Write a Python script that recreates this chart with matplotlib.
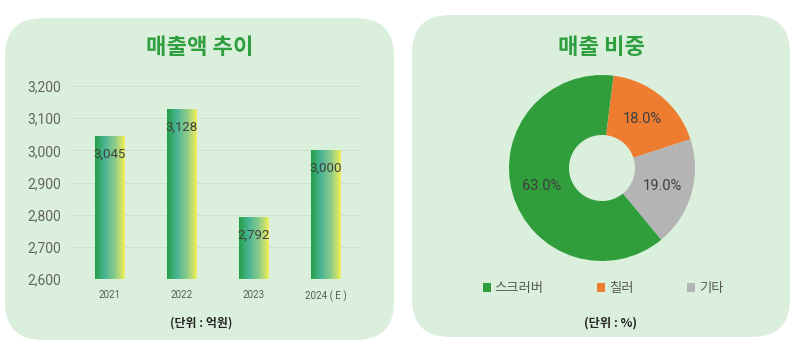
import numpy as np
import matplotlib
matplotlib.use("Agg")
import matplotlib.pyplot as plt
from matplotlib.patches import FancyBboxPatch, Patch
from matplotlib.colors import LinearSegmentedColormap

plt.rcParams['font.family'] = ['Noto Sans CJK KR', 'DejaVu Sans']
NUM_FONT = ['Roboto', 'Noto Sans CJK KR']

# 매출액 추이
years = ["2021", "2022", "2023", "2024 ( E )"]
sales = [3045, 3128, 2792, 3000]
yticks = [2600, 2700, 2800, 2900, 3000, 3100, 3200]

# 매출 비중
share_labels = ["스크러버", "칠러", "기타"]
share_values = [63.0, 18.0, 19.0]
share_colors = ["#2f9e3b", "#ee7d31", "#b4b4b4"]

W, H = 800, 354
panel_bg = "#dbf0dc"
title_green = "#2e9e3e"

fig = plt.figure(figsize=(W / 100, H / 100), dpi=100)
fig.patch.set_facecolor("white")


def px_box(x0, y0, x1, y1):
    # 픽셀 좌표(좌상단 기준) -> figure 비율 [l, b, w, h]
    return [x0 / W, 1 - y1 / H, (x1 - x0) / W, (y1 - y0) / H]


def panel(x0, y0, x1, y1, r=38):
    p = FancyBboxPatch((x0 + r, H - y1 + r), (x1 - x0) - 2 * r, (y1 - y0) - 2 * r,
                       boxstyle=f"round,pad={r}", transform=None,
                       facecolor=panel_bg, edgecolor="none", zorder=-10)
    fig.add_artist(p)


panel(5, 18, 394, 340)
panel(412, 15, 790, 337)

# ---- 왼쪽: 막대 ----
ax = fig.add_axes(px_box(74, 86, 362, 279))
ax.set_facecolor("none")
ax.set_yticks(yticks)
ax.set_yticklabels([f"{v:,}" for v in yticks], fontsize=10, color="#646464",
                   family=NUM_FONT)
ax.set_xticks(range(len(years)))
ax.set_xticklabels(years, fontsize=7, color="#595959", family=NUM_FONT)
ax.tick_params(length=0)
ax.tick_params(axis="y", pad=9.5)
ax.tick_params(axis="x", pad=8)
for s in ax.spines.values():
    s.set_visible(False)
ax.grid(axis="y", color="#c9e2c9", linewidth=0.7)
ax.set_axisbelow(True)

cmap = LinearSegmentedColormap.from_list(
    "bar", ["#22a045", "#4bb597", "#8ccc8a", "#f4ef5a"], N=256)
grad = np.linspace(0, 1, 256).reshape(1, -1)
bars = ax.bar(range(len(years)), [v - 2600 for v in sales], bottom=2600,
              width=0.41, color="none", edgecolor="none", zorder=2)
for b, v in zip(bars, sales):
    x0, y0 = b.get_x(), b.get_y()
    im = ax.imshow(grad, cmap=cmap, aspect="auto", zorder=2,
                   extent=[x0, x0 + b.get_width(), y0, y0 + b.get_height()])
    im.set_clip_path(b)
    ax.annotate(f"{v:,}", (b.get_x() + b.get_width() / 2, v), xytext=(0, -13),
                textcoords="offset points", ha="center", va="center",
                fontsize=9.5, color="#404040", zorder=3, family=NUM_FONT)
ax.set_xlim(-0.5, len(years) - 0.5)
ax.set_ylim(2600, 3200)

fig.text(200 / W, 1 - 47 / H, "매출액 추이", ha="center", va="center",
         fontsize=16, fontweight="bold", color=title_green)
fig.text(201 / W, 1 - 323 / H, "(단위 : 억원)", ha="center", va="center",
         fontsize=8.6, fontweight="bold", color="#262626")

# ---- 오른쪽: 도넛 ----
cx, cy, r = 602, 168, 93
pax = fig.add_axes(px_box(cx - r, cy - r, cx + r, cy + r))
wedges, _, autotexts = pax.pie(share_values, colors=share_colors, startangle=-50.4,
                               counterclock=False, autopct="%.1f%%", pctdistance=0.68,
                               wedgeprops=dict(width=0.645, edgecolor="none"),
                               textprops=dict(fontsize=10.5, color="#404040",
                                              family=NUM_FONT))
pax.set_xlim(-1, 1)
pax.set_ylim(-1, 1)
pax.set_aspect("equal")

fig.text(601 / W, 1 - 47 / H, "매출 비중", ha="center", va="center",
         fontsize=16, fontweight="bold", color=title_green)
handles = [Patch(facecolor=c, edgecolor="none") for c in share_colors]
leg = fig.legend(handles, share_labels, loc="center", ncol=3,
                 bbox_to_anchor=(603 / W, 1 - 288 / H), frameon=False,
                 fontsize=9.6, handlelength=0.6, handleheight=0.6,
                 handletextpad=0.3, columnspacing=4.0, labelcolor="#595959")
fig.text(610 / W, 1 - 323 / H, "(단위 : %)", ha="center", va="center",
         fontsize=8.8, fontweight="bold", color="#262626")

fig.savefig("out.png", dpi=100, facecolor="white")
